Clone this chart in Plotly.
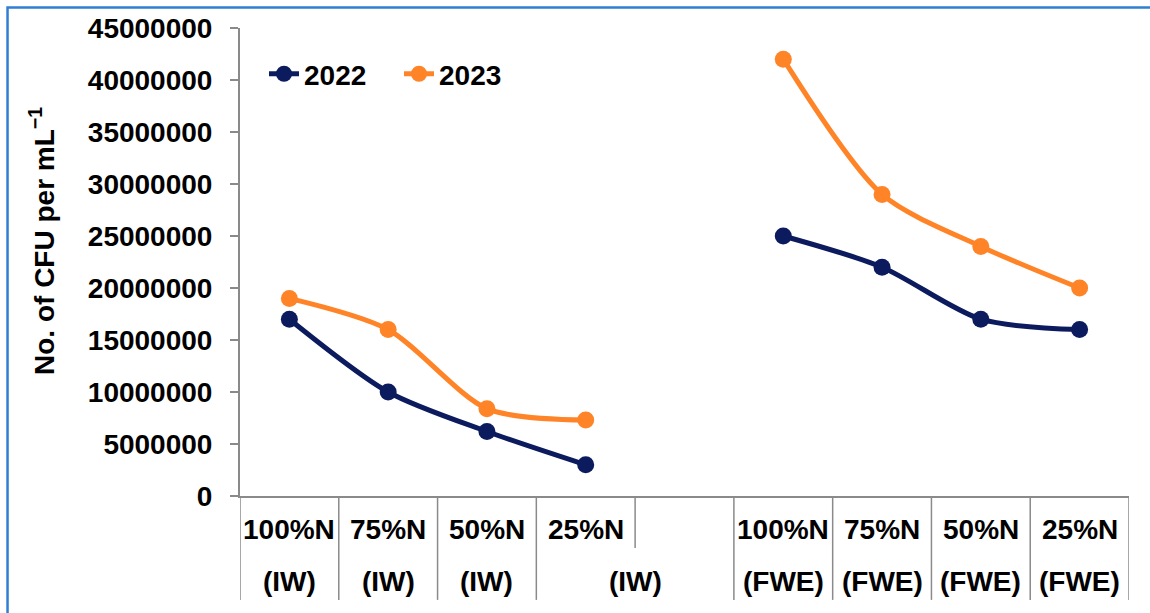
import plotly.graph_objects as go

# Treatment slots along the x axis (index 4 is an empty spacer column)
treatment_row1 = ["100%N", "75%N", "50%N", "25%N", "", "100%N", "75%N", "50%N", "25%N"]
# Second label row: (label, position) - the last IW label spans the spacer column
treatment_row2 = [("(IW)", 0), ("(IW)", 1), ("(IW)", 2), ("(IW)", 3.5),
                  ("(FWE)", 5), ("(FWE)", 6), ("(FWE)", 7), ("(FWE)", 8)]

x_pos = list(range(9))
cfu_2022 = [17000000, 10000000, 6200000, 3000000, None, 25000000, 22000000, 17000000, 16000000]
cfu_2023 = [19000000, 16000000, 8400000, 7300000, None, 42000000, 29000000, 24000000, 20000000]

NAVY = "#0c1a5e"
ORANGE = "#ff8427"
GRID_GRAY = "#8a8a8a"
FONT = "Liberation Sans"
FS = 28

fig = go.Figure()
for name, vals, col in [("2022", cfu_2022, NAVY), ("2023", cfu_2023, ORANGE)]:
    fig.add_trace(go.Scatter(
        x=x_pos, y=vals, name=name, mode="lines+markers",
        line=dict(color=col, width=5, shape="spline", smoothing=0.8),
        marker=dict(color=col, size=17),
        connectgaps=False,
    ))

# Table-like category dividers below the x axis
shapes = []
for i in range(10):
    xb = i - 0.5
    y_end = -0.111 if xb == 3.5 else -0.222
    shapes.append(dict(type="line", xref="x", yref="paper", x0=xb, x1=xb, y0=0, y1=y_end,
                       line=dict(color=GRID_GRAY, width=1.5)))

# Outer chart-area border
shapes.append(dict(type="rect", xref="paper", yref="paper", x0=-0.2615, x1=1.2, y0=-0.5, y1=1.0438,
                   line=dict(color="#2f7fd3", width=2.5), layer="below"))

bold = dict(family=FONT, size=FS, color="black", weight=700)

annotations = []
for i, t in enumerate(treatment_row1):
    if t:
        annotations.append(dict(x=i, y=-0.072, xref="x", yref="paper", text=t, showarrow=False,
                                font=bold, xanchor="center", yanchor="middle"))
for t, xp in treatment_row2:
    annotations.append(dict(x=xp, y=-0.183, xref="x", yref="paper", text=t, showarrow=False,
                            font=bold, xanchor="center", yanchor="middle"))

annotations.append(dict(x=-0.2227, y=0.545, xref="paper", yref="paper",
                        text="No. of CFU per mL<sup>−1</sup>", textangle=-90, showarrow=False,
                        font=bold, xanchor="center", yanchor="middle"))

fig.update_layout(
    width=1150, height=613,
    margin=dict(l=240, r=21, t=28, b=117),
    paper_bgcolor="white", plot_bgcolor="white",
    showlegend=True,
    legend=dict(orientation="h", x=0.027, y=0.955, xanchor="left", yanchor="top",
                font=bold, bgcolor="rgba(0,0,0,0)", itemwidth=30,
                entrywidth=90, entrywidthmode="pixels"),
    xaxis=dict(range=[-0.5, 8.5], showticklabels=False, ticks="", showgrid=False, zeroline=False,
               showline=True, linecolor=GRID_GRAY, linewidth=2),
    yaxis=dict(range=[0, 45000000], dtick=5000000, tickformat="d", showgrid=False, zeroline=False,
               showline=True, linecolor=GRID_GRAY, linewidth=2,
               ticks="outside", ticklen=8, tickcolor=GRID_GRAY, tickwidth=1.5,
               ticklabelstandoff=12, tickfont=bold),
    shapes=shapes,
    annotations=annotations,
)

fig.write_html("out.html")
